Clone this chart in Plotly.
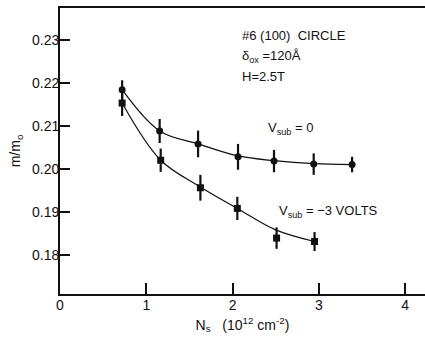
import plotly.graph_objects as go

# Vsub = 0 (circles)
ns_0 = [0.72, 1.155, 1.60, 2.063, 2.48, 2.94, 3.385]
m_0 = [0.2184, 0.2088, 0.2058, 0.2028, 0.2018, 0.2011, 0.2010]
err_0 = [0.0022, 0.0028, 0.0031, 0.0030, 0.0026, 0.0025, 0.0018]

# Vsub = -3 V (squares)
ns_3 = [0.72, 1.167, 1.627, 2.055, 2.51, 2.95]
m_3 = [0.2153, 0.2020, 0.1956, 0.1908, 0.1839, 0.1831]
err_3 = [0.0030, 0.0027, 0.0030, 0.0027, 0.0025, 0.0022]

# hand-drawn guide curves
curve0_x = [0.72, 1.155, 1.60, 2.063, 2.48, 2.94, 3.385]
curve0_y = [0.2184, 0.2088, 0.2058, 0.2030, 0.2019, 0.2012, 0.2010]
curve3_x = [0.72, 1.167, 1.627, 2.055, 2.50, 2.95]
curve3_y = [0.2153, 0.2020, 0.1958, 0.1908, 0.1858, 0.1831]

x_ticks = [1, 2, 3, 4]
x_labels = ["1", "2", "3", "4"]
y_ticks = [0.18, 0.19, 0.20, 0.21, 0.22, 0.23]
y_labels = ["0.18", "0.19", "0.20", "0.21", "0.22", "0.23"]

FONT = "Liberation Sans"
INK = "#111111"

fig = go.Figure()
fig.add_trace(go.Scatter(x=curve0_x, y=curve0_y, mode="lines",
                         line=dict(color=INK, width=1.2, shape="spline", smoothing=1.0),
                         hoverinfo="skip", showlegend=False))
fig.add_trace(go.Scatter(x=curve3_x, y=curve3_y, mode="lines",
                         line=dict(color=INK, width=1.2, shape="spline", smoothing=1.0),
                         hoverinfo="skip", showlegend=False))
fig.add_trace(go.Scatter(x=ns_0, y=m_0, mode="markers",
                         marker=dict(symbol="circle", size=7, color=INK),
                         error_y=dict(type="data", array=err_0, color=INK, thickness=2.2, width=0),
                         showlegend=False))
fig.add_trace(go.Scatter(x=ns_3, y=m_3, mode="markers",
                         marker=dict(symbol="square", size=7, color=INK),
                         error_y=dict(type="data", array=err_3, color=INK, thickness=2.2, width=0),
                         showlegend=False))

ann_font = dict(family=FONT, size=13, color=INK)
fig.add_annotation(x=2.09, y=0.2309, xref="x", yref="y", text="#6 (100)  CIRCLE",
                   showarrow=False, xanchor="left", yanchor="middle", font=ann_font)
fig.add_annotation(x=2.09, y=0.2262, xref="x", yref="y", text="δ<sub>ox</sub> =120Å",
                   showarrow=False, xanchor="left", yanchor="middle", font=ann_font)
fig.add_annotation(x=2.09, y=0.2214, xref="x", yref="y", text="H=2.5T",
                   showarrow=False, xanchor="left", yanchor="middle", font=ann_font)
fig.add_annotation(x=2.39, y=0.2094, xref="x", yref="y", text="V<sub>sub</sub> = 0",
                   showarrow=False, xanchor="left", yanchor="middle", font=ann_font)
fig.add_annotation(x=2.52, y=0.1902, xref="x", yref="y", text="V<sub>sub</sub> = −3 VOLTS",
                   showarrow=False, xanchor="left", yanchor="middle", font=ann_font)

fig.update_layout(
    width=425, height=337,
    margin=dict(l=60, r=0, t=8, b=43),
    paper_bgcolor="white", plot_bgcolor="white",
    font=dict(family=FONT, size=14, color=INK),
    showlegend=False,
)
fig.update_xaxes(
    range=[0, 4.23], tickvals=[0] + x_ticks, ticktext=["0"] + x_labels,
    ticks="inside", ticklen=11, tickwidth=1.5, tickcolor=INK,
    showline=True, linecolor=INK, linewidth=1.8, mirror=True,
    showgrid=False, zeroline=False, ticklabelstandoff=-3,
    tickfont=dict(family=FONT, size=14, color=INK),
    title=dict(text="N<sub>s</sub>   (10<sup>12</sup> cm<sup>-2</sup>)", standoff=8,
               font=dict(family=FONT, size=14, color=INK)),
)
fig.update_yaxes(
    range=[0.1709, 0.2374], tickvals=y_ticks, ticktext=y_labels,
    ticks="inside", ticklen=10, tickwidth=1.5, tickcolor=INK,
    showline=True, linecolor=INK, linewidth=1.8, mirror=False,
    showgrid=False, zeroline=False, ticklabelstandoff=-4,
    tickfont=dict(family=FONT, size=14, color=INK),
    title=dict(text="m/m<sub>o</sub>", standoff=8,
               font=dict(family=FONT, size=14, color=INK)),
)

fig.write_html("out.html")
